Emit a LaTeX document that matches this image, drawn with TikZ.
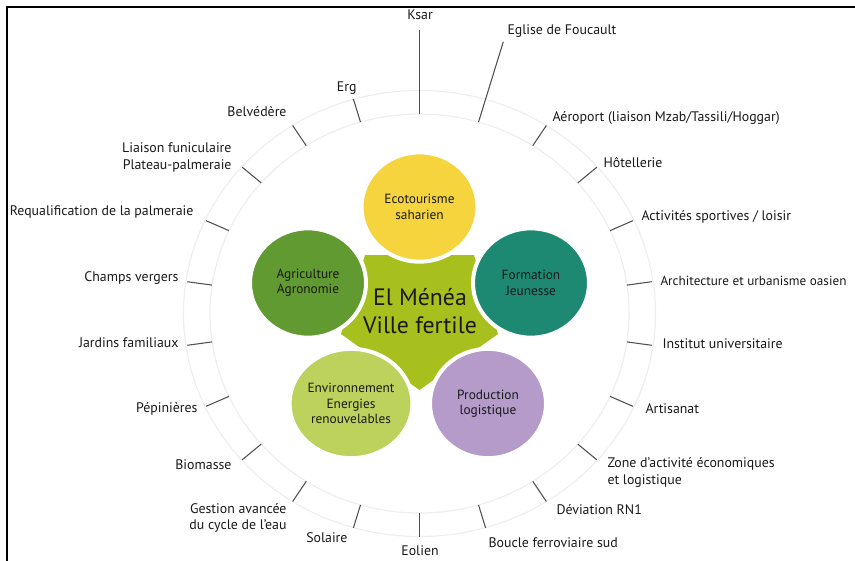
\documentclass[tikz,border=0pt]{standalone}
\usepackage{fontspec}
\setmainfont{PT Sans}
\usetikzlibrary{shapes.geometric}

\definecolor{starlime}{RGB}{168,192,30}
\definecolor{ecoyellow}{RGB}{246,212,62}
\definecolor{agrigreen}{RGB}{96,154,48}
\definecolor{formteal}{RGB}{30,137,115}
\definecolor{envgreen}{RGB}{189,210,92}
\definecolor{prodpurple}{RGB}{180,155,202}
\definecolor{ringgray}{RGB}{238,238,238}
\definecolor{tickgray}{RGB}{80,80,80}
\definecolor{txtdark}{RGB}{25,25,25}

\tikzset{every picture/.style={line width=0.75pt}}
\tikzset{
  bubble/.style={ellipse, minimum width=87pt, minimum height=82pt, inner sep=0pt, draw=white, line width=3pt, align=center, text=txtdark, font=\fontsize{10}{11.5}\selectfont},
  lbl/.style={inner sep=0pt, text=txtdark, font=\fontsize{10.4}{12.5}\selectfont},
  tickline/.style={draw=tickgray, line width=0.8pt},
  ring/.style={draw=ringgray, line width=0.9pt}
}

\begin{document}
\begin{tikzpicture}[x=0.75pt,y=0.75pt,yscale=-1,xscale=1]
\useasboundingbox (0,0) rectangle (855,560);

%Frame
\draw [line width=2pt] (7,575) -- (7,7) -- (870,7);

%Shape: Ellipse [inner ring]
\draw [ring] (419.5,313.5) ellipse [x radius=209.5, y radius=199.5];
%Shape: Ellipse [outer ring]
\draw [ring] (419.5,313.5) ellipse [x radius=236, y radius=223];

%Straight Lines [ticks]
\foreach \k in {0,...,21}{
  \pgfmathsetmacro{\ang}{90-\k*360/22}
  \pgfmathsetmacro{\len}{ifthenelse(\k<2,1.42,1.12)}
  \coordinate (in\k) at ({419.5+209.5*cos(\ang)},{313.5-199.5*sin(\ang)});
  \coordinate (out\k) at ({419.5+209.5*\len*cos(\ang)},{313.5-199.5*\len*sin(\ang)});
  \draw [tickline] (in\k) -- (out\k);
}

%Shape: Polygon [centre]
\fill [starlime] (365,255) -- (474,255) -- (498,334) -- (419.5,390) -- (341,334) -- cycle;

%Shape: Circles
\node [bubble, fill=ecoyellow] (eco) at (419.5,207) {Ecotourisme\\saharien};
\node [bubble, fill=agrigreen] (agri) at (308,283) {Agriculture\\Agronomie};
\node [bubble, fill=formteal] (form) at (531,283) {Formation\\Jeunesse};
\node [bubble, fill=envgreen] (env) at (351,403.5) {Environnement\\Energies\\renouvelables};
\node [bubble, fill=prodpurple] (prod) at (488,403.5) {Production\\logistique};

% Text Node
\node [text=txtdark, align=center, font=\fontsize{17.8}{20.5}\selectfont] (city) at (420,311) {El Ménéa\\Ville fertile};

% Text Node [right side]
\node [lbl, anchor=center] (ksar) at (420,15) {Ksar};
\node [lbl, anchor=west] (eglise) at (507,31) {Eglise de Foucault};
\node [lbl, anchor=west] (aero) at (552,118) {Aéroport (liaison Mzab/Tassili/Hoggar)};
\node [lbl, anchor=west] (hotel) at (603,163) {Hôtellerie};
\node [lbl, anchor=west] (sport) at (641,217) {Activités sportives / loisir};
\node [lbl, anchor=west, font=\fontsize{9.9}{12}\selectfont] (archi) at (660,281) {Architecture et urbanisme oasien};
\node [lbl, anchor=west] (inst) at (662,344) {Institut universitaire};
\node [lbl, anchor=west] (artis) at (645,409) {Artisanat};
\node [lbl, anchor=north west, align=left] (zone) at (607,457) {Zone d’activité économiques\\et logistique};
\node [lbl, anchor=west] (devia) at (556,510) {Déviation RN1};
\node [lbl, anchor=west] (boucle) at (488,543) {Boucle ferroviaire sud};
\node [lbl, anchor=center] (eolien) at (420,551) {Eolien};

% Text Node [left side]
\node [lbl, anchor=east] (erg) at (357,88) {Erg};
\node [lbl, anchor=east] (belv) at (287,112) {Belvédère};
\node [lbl, anchor=east, align=right] (liaison) at (232,157.5) {Liaison funiculaire\\Plateau-palmeraie};
\node [lbl, anchor=east] (requal) at (194,212) {Requalification de la palmeraie};
\node [lbl, anchor=east] (champs) at (179,278) {Champs vergers};
\node [lbl, anchor=east] (jardins) at (179,343) {Jardins familiaux};
\node [lbl, anchor=east] (pepin) at (198,409) {Pépinières};
\node [lbl, anchor=east] (biom) at (232,465) {Biomasse};
\node [lbl, anchor=east, align=right] (gestion) at (287,518) {Gestion avancée\\du cycle de l’eau};
\node [lbl, anchor=east] (solaire) at (348,538) {Solaire};

\end{tikzpicture}
\end{document}
